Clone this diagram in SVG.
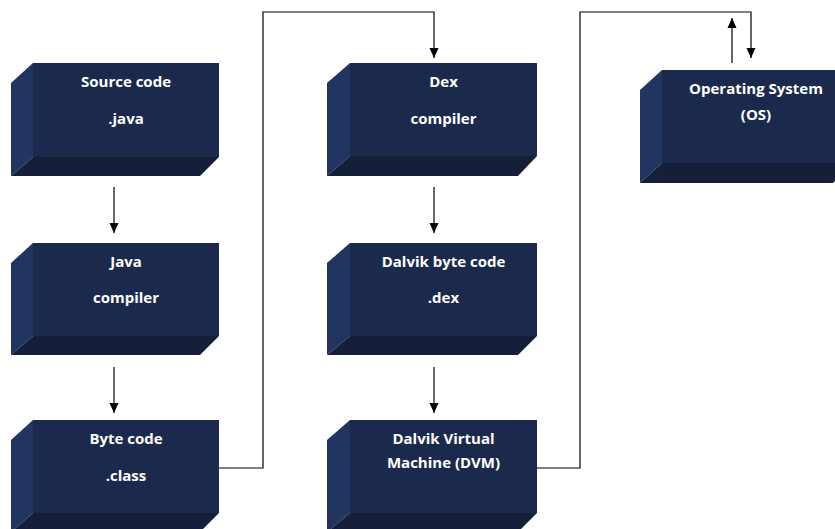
<svg xmlns="http://www.w3.org/2000/svg" width="835" height="529" viewBox="0 0 835 529">
<defs>
<marker id="ah" viewBox="0 0 10 10" refX="10" refY="5" markerWidth="10" markerHeight="10" markerUnits="userSpaceOnUse" orient="auto">
<path d="M0,0.5 L10,5 L0,9.5 Z" fill="#000"/>
</marker>
<style>
.front{fill:#1b2a4c}
.side{fill:#20355f}
.bot{fill:#151f3a}
.t{font-family:"Open Sans",Lato,"Liberation Sans",sans-serif;font-weight:bold;font-size:15px;fill:#fff;text-anchor:middle}
.c{fill:none;stroke:#000;stroke-width:1.2}
</style>
</defs>
<rect width="835" height="529" fill="#fff"/>

<g id="source-code">
<rect class="front" x="33" y="63" width="186" height="94"/>
<polygon class="side" points="11,83 33,63 33,157 11,176"/>
<polygon class="bot" points="33,157 219,157 200,176 11,176"/>
<text class="t" x="126" y="87">Source code</text>
<text class="t" x="126" y="124">.java</text>
</g>

<g id="java-compiler">
<rect class="front" x="33" y="243" width="186" height="93"/>
<polygon class="side" points="11,263 33,243 33,336 11,355"/>
<polygon class="bot" points="33,336 219,336 200,355 11,355"/>
<text class="t" x="126" y="267">Java</text>
<text class="t" x="126" y="303">compiler</text>
</g>

<g id="byte-code">
<rect class="front" x="33" y="420" width="186" height="93"/>
<polygon class="side" points="11,440 33,420 33,513 11,532"/>
<polygon class="bot" points="33,513 219,513 200,532 11,532"/>
<text class="t" x="126" y="444">Byte code</text>
<text class="t" x="126" y="481">.class</text>
</g>

<g id="dex-compiler">
<rect class="front" x="350" y="63" width="187" height="93"/>
<polygon class="side" points="327,83 350,63 350,156 327,176"/>
<polygon class="bot" points="350,156 537,156 518,176 327,176"/>
<text class="t" x="443.5" y="87">Dex</text>
<text class="t" x="443.5" y="124">compiler</text>
</g>

<g id="dalvik-byte-code">
<rect class="front" x="350" y="243" width="187" height="93"/>
<polygon class="side" points="327,263 350,243 350,336 327,355"/>
<polygon class="bot" points="350,336 537,336 518,355 327,355"/>
<text class="t" x="443.5" y="267">Dalvik byte code</text>
<text class="t" x="443.5" y="303">.dex</text>
</g>

<g id="dvm">
<rect class="front" x="350" y="420" width="187" height="93"/>
<polygon class="side" points="327,440 350,420 350,513 327,532"/>
<polygon class="bot" points="350,513 537,513 518,532 327,532"/>
<text class="t" x="443.5" y="444">Dalvik Virtual</text>
<text class="t" x="443.5" y="468">Machine (DVM)</text>
</g>

<g id="os">
<rect class="front" x="662" y="70" width="190" height="93"/>
<polygon class="side" points="640,90 662,70 662,163 640,183"/>
<polygon class="bot" points="662,163 852,163 833,183 640,183"/>
<text class="t" x="756" y="94">Operating System</text>
<text class="t" x="756" y="120">(OS)</text>
</g>

<g id="connectors">
<line class="c" x1="114" y1="187" x2="114" y2="233" marker-end="url(#ah)"/>
<line class="c" x1="114" y1="367" x2="114" y2="413" marker-end="url(#ah)"/>
<line class="c" x1="434" y1="187" x2="434" y2="233" marker-end="url(#ah)"/>
<line class="c" x1="434" y1="367" x2="434" y2="413" marker-end="url(#ah)"/>
<polyline class="c" points="219,468 263,468 263,12 434,12 434,58" marker-end="url(#ah)"/>
<polyline class="c" points="537,468 580,468 580,12 751,12 751,58" marker-end="url(#ah)"/>
<line class="c" x1="732" y1="63" x2="732" y2="18" marker-end="url(#ah)"/>
</g>
</svg>
